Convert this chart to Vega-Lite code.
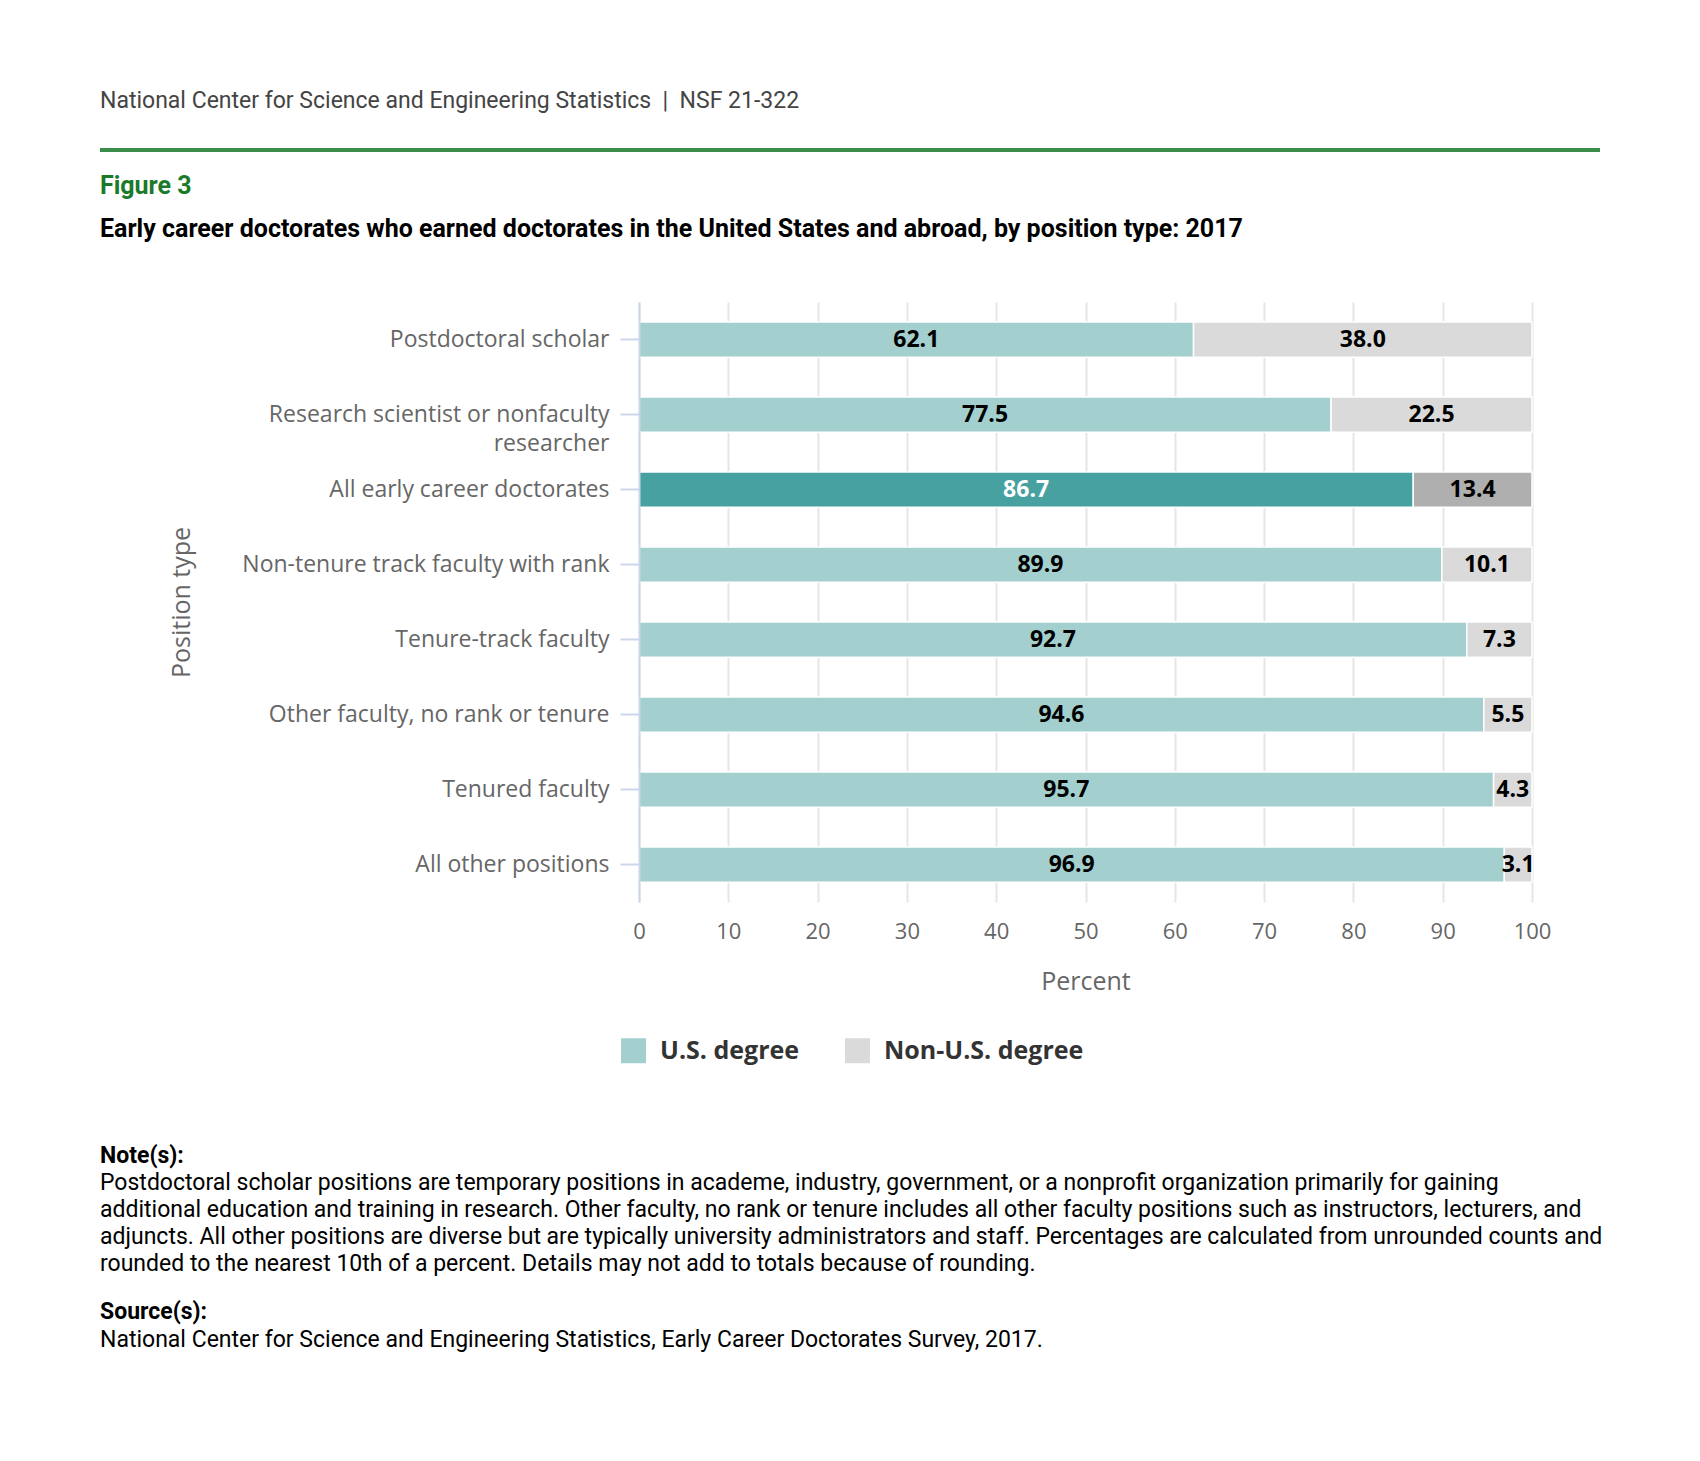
{
  "$schema": "https://vega.github.io/schema/vega-lite/v6.json",
  "padding": {"left": 100, "top": 90, "right": 0, "bottom": 0},
  "background": "white",
  "spacing": 22,
  "config": {
    "view": {"stroke": null},
    "font": "Open Sans"
  },
  "vconcat": [
    {
      "width": 1500,
      "height": 4,
      "data": {"values": []},
      "mark": "point",
      "view": {"stroke": null, "fill": "#3a8c4a"},
      "title": {
        "text": "National Center for Science and Engineering Statistics\u00a0\u00a0|\u00a0\u00a0NSF 21-322",
        "font": "Roboto",
        "fontSize": 23,
        "fontWeight": "normal",
        "color": "#444444",
        "anchor": "start",
        "offset": 35
      }
    },
    {
      "width": 1500,
      "height": 1,
      "data": {"values": []},
      "mark": "point",
      "title": {
        "text": "Figure 3",
        "subtitle": "Early career doctorates who earned doctorates in the United States and abroad, by position type: 2017",
        "font": "Roboto",
        "fontSize": 25,
        "fontWeight": "bold",
        "color": "#1a7a2a",
        "subtitleFont": "Roboto",
        "subtitleFontSize": 25,
        "subtitleFontWeight": "bold",
        "subtitleColor": "#000000",
        "subtitlePadding": 18,
        "anchor": "start",
        "offset": 37
      }
    },
    {
      "spacing": 0,
      "hconcat": [
        {
          "width": 67.8,
          "height": 1,
          "data": {"values": []},
          "mark": "point"
        },
        {
          "width": 893,
          "height": 600,
          "data": {
            "values": [
              {"position": "Postdoctoral scholar", "degree": "U.S. degree", "value": 62.1},
              {"position": "Postdoctoral scholar", "degree": "Non-U.S. degree", "value": 38.0},
              {"position": "Research scientist or nonfaculty researcher", "degree": "U.S. degree", "value": 77.5},
              {"position": "Research scientist or nonfaculty researcher", "degree": "Non-U.S. degree", "value": 22.5},
              {"position": "All early career doctorates", "degree": "U.S. degree", "value": 86.7},
              {"position": "All early career doctorates", "degree": "Non-U.S. degree", "value": 13.4},
              {"position": "Non-tenure track faculty with rank", "degree": "U.S. degree", "value": 89.9},
              {"position": "Non-tenure track faculty with rank", "degree": "Non-U.S. degree", "value": 10.1},
              {"position": "Tenure-track faculty", "degree": "U.S. degree", "value": 92.7},
              {"position": "Tenure-track faculty", "degree": "Non-U.S. degree", "value": 7.3},
              {"position": "Other faculty, no rank or tenure", "degree": "U.S. degree", "value": 94.6},
              {"position": "Other faculty, no rank or tenure", "degree": "Non-U.S. degree", "value": 5.5},
              {"position": "Tenured faculty", "degree": "U.S. degree", "value": 95.7},
              {"position": "Tenured faculty", "degree": "Non-U.S. degree", "value": 4.3},
              {"position": "All other positions", "degree": "U.S. degree", "value": 96.9},
              {"position": "All other positions", "degree": "Non-U.S. degree", "value": 3.1}
            ]
          },
          "transform": [
            {"stack": "value", "groupby": ["position"], "sort": [{"field": "degree", "order": "descending"}], "as": ["v0", "v1"]},
            {"calculate": "(datum.v0 + min(datum.v1, 100)) / 2", "as": "mid"}
          ],
          "encoding": {
            "y": {
              "field": "position",
              "type": "nominal",
              "sort": [
                "Postdoctoral scholar",
                "Research scientist or nonfaculty researcher",
                "All early career doctorates",
                "Non-tenure track faculty with rank",
                "Tenure-track faculty",
                "Other faculty, no rank or tenure",
                "Tenured faculty",
                "All other positions"
              ],
              "scale": {"paddingInner": 0.53, "paddingOuter": 0.265},
              "axis": {
                "title": "Position type",
                "titleFont": "Open Sans",
                "titleFontSize": 25,
                "titleFontWeight": "normal",
                "titleColor": "#666666",
                "titleX": -458,
                "titleBaseline": "middle",
                "labelFont": "Open Sans",
                "labelFontSize": 23,
                "labelColor": "#666666",
                "labelPadding": 11,
                "labelLimit": 600,
                "labelLineHeight": 29,
                "labelExpr": "datum.label == 'Research scientist or nonfaculty researcher' ? ['Research scientist or nonfaculty', 'researcher'] : datum.label",
                "domainColor": "#ccd6eb",
                "domainWidth": 2,
                "tickColor": "#ccd6eb",
                "tickWidth": 2,
                "tickSize": 19,
                "grid": false,
                "zindex": 1
              }
            }
          },
          "layer": [
            {
              "mark": {"type": "bar", "stroke": "white", "strokeWidth": 1.5},
              "encoding": {
                "x": {
                  "field": "v0",
                  "type": "quantitative",
                  "scale": {"domain": [0, 100], "clamp": true, "nice": false},
                  "axis": {
                    "title": "Percent",
                    "titleFont": "Open Sans",
                    "titleFontSize": 25,
                    "titleFontWeight": "normal",
                    "titleColor": "#666666",
                    "titlePadding": 27,
                    "values": [0, 10, 20, 30, 40, 50, 60, 70, 80, 90, 100],
                    "labelFont": "Open Sans",
                    "labelFontSize": 22,
                    "labelColor": "#666666",
                    "labelPadding": 19.5,
                    "labelFlush": false,
                    "domain": false,
                    "ticks": false,
                    "tickSize": 0,
                    "grid": true,
                    "gridColor": "#e6e6e6",
                    "gridWidth": 2
                  }
                },
                "x2": {"field": "v1"},
                "color": {
                  "field": "degree",
                  "type": "nominal",
                  "scale": {"domain": ["U.S. degree", "Non-U.S. degree"], "range": ["#a3cfcf", "#dadada"]},
                  "legend": {
                    "orient": "none",
                    "legendX": 521,
                    "legendY": 890,
                    "direction": "horizontal",
                    "title": null,
                    "symbolType": "square",
                    "symbolSize": 625,
                    "symbolStrokeWidth": 0,
                    "symbolOpacity": 1,
                    "labelFont": "Open Sans",
                    "labelFontSize": 25,
                    "labelFontWeight": "bold",
                    "labelColor": "#333333",
                    "labelOffset": 14,
                    "labelLimit": 500,
                    "columnPadding": 45
                  },
                  "condition": [
                    {"test": "datum.position === 'All early career doctorates' && datum.degree === 'U.S. degree'", "value": "#48a1a1"},
                    {"test": "datum.position === 'All early career doctorates'", "value": "#aeafae"}
                  ]
                }
              }
            },
            {
              "mark": {"type": "text", "font": "Open Sans", "fontWeight": "bold", "fontSize": 23},
              "encoding": {
                "x": {"field": "mid", "type": "quantitative"},
                "text": {"field": "value", "type": "quantitative", "format": ".1f"},
                "color": {
                  "condition": {"test": "datum.position === 'All early career doctorates' && datum.degree === 'U.S. degree'", "value": "#ffffff"},
                  "value": "#000000"
                }
              }
            }
          ]
        }
      ]
    },
    {
      "width": 1,
      "height": 106,
      "data": {"values": []},
      "mark": "point"
    },
    {
      "width": 1500,
      "height": 1,
      "data": {"values": []},
      "mark": "point",
      "title": {
        "text": "Note(s):",
        "subtitle": [
          "Postdoctoral scholar positions are temporary positions in academe, industry, government, or a nonprofit organization primarily for gaining",
          "additional education and training in research. Other faculty, no rank or tenure includes all other faculty positions such as instructors, lecturers, and",
          "adjuncts. All other positions are diverse but are typically university administrators and staff. Percentages are calculated from unrounded counts and",
          "rounded to the nearest 10th of a percent. Details may not add to totals because of rounding."
        ],
        "font": "Roboto",
        "fontSize": 23,
        "fontWeight": "bold",
        "color": "#000000",
        "subtitleFont": "Roboto",
        "subtitleFontSize": 23,
        "subtitleFontWeight": "normal",
        "subtitleColor": "#000000",
        "subtitleLineHeight": 27,
        "subtitlePadding": 4,
        "anchor": "start",
        "offset": 2
      }
    },
    {
      "width": 1500,
      "height": 1,
      "data": {"values": []},
      "mark": "point",
      "title": {
        "text": "Source(s):",
        "subtitle": "National Center for Science and Engineering Statistics, Early Career Doctorates Survey, 2017.",
        "font": "Roboto",
        "fontSize": 23,
        "fontWeight": "bold",
        "color": "#000000",
        "subtitleFont": "Roboto",
        "subtitleFontSize": 23,
        "subtitleFontWeight": "normal",
        "subtitleColor": "#000000",
        "subtitlePadding": 5,
        "anchor": "start",
        "offset": 5
      }
    }
  ]
}
